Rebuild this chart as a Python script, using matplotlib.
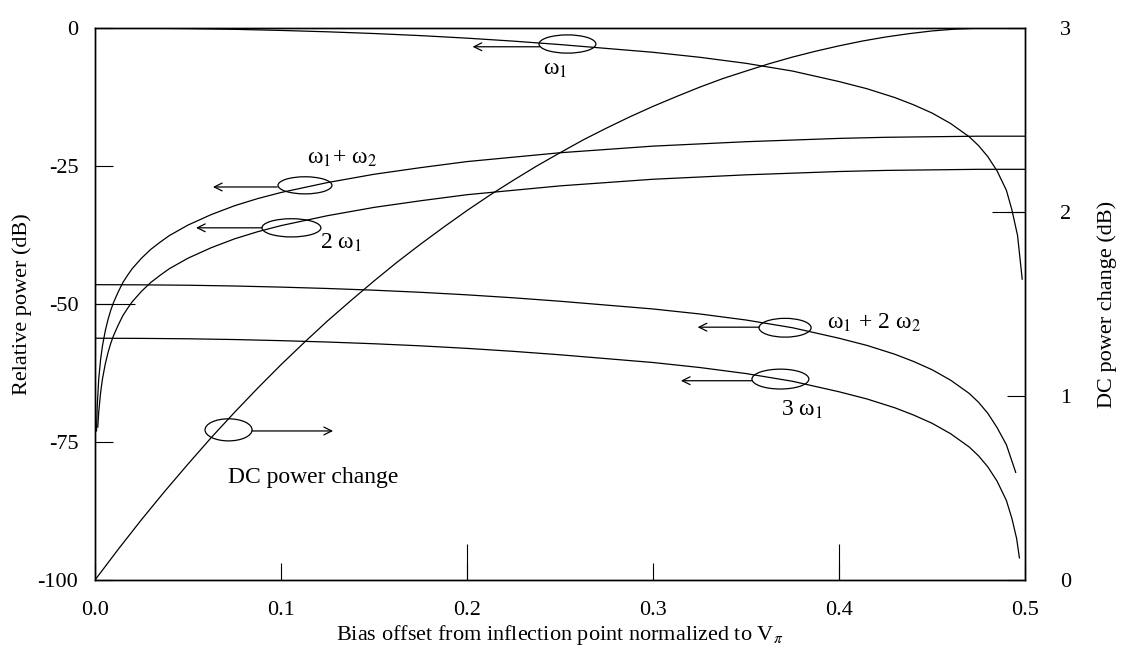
import matplotlib.pyplot as plt
from matplotlib.patches import Ellipse

plt.rcParams['font.family'] = ['Liberation Serif', 'DejaVu Serif']
plt.rcParams['mathtext.fontset'] = 'stix'
plt.rcParams['axes.unicode_minus'] = False

# Valeurs (biais normalisé à Vpi -> puissance relative en dB)
x_w1 = [0.0, 0.025, 0.05, 0.075, 0.1, 0.125, 0.15, 0.175, 0.2, 0.225, 0.25, 0.275, 0.3, 0.325,
        0.35, 0.375, 0.4, 0.415, 0.43, 0.44, 0.45, 0.46, 0.47, 0.475, 0.48, 0.485, 0.49, 0.493,
        0.496, 0.4985]
p_w1 = [0.0, -0.03, -0.11, -0.24, -0.44, -0.69, -1.0, -1.38, -1.84, -2.38, -3.0, -3.7, -4.4, -5.3,
        -6.4, -7.8, -9.7, -11.0, -12.6, -13.9, -15.4, -17.3, -19.7, -21.3, -23.3, -25.9, -29.4, -33.0,
        -37.6, -45.5]

x_w1w2 = [0.0008, 0.0012, 0.002, 0.003, 0.004, 0.0055, 0.007, 0.0085, 0.01, 0.0125, 0.015, 0.0175,
          0.02, 0.025, 0.03, 0.035, 0.04, 0.05, 0.0625, 0.075, 0.0875, 0.1, 0.125, 0.15, 0.175, 0.2,
          0.225, 0.25, 0.275, 0.3, 0.325, 0.35, 0.375, 0.4, 0.425, 0.45, 0.475, 0.5]
p_w1w2 = [-73.0, -68.5, -63.6, -60.1, -57.6, -54.9, -52.8, -51.1, -49.7, -47.8, -46.1, -44.8,
          -43.6, -41.7, -40.1, -38.8, -37.6, -35.7, -33.8, -32.2, -30.9, -29.8, -28.0, -26.5, -25.3, -24.2,
          -23.4, -22.6, -22.0, -21.4, -21.0, -20.6, -20.3, -20.0, -19.8, -19.7, -19.6, -19.6]

x_2w1 = [0.0015, 0.002, 0.003, 0.004, 0.0055, 0.007, 0.0085, 0.01, 0.0125, 0.015, 0.0175, 0.02,
         0.025, 0.03, 0.035, 0.04, 0.05, 0.0625, 0.075, 0.0875, 0.1, 0.125, 0.15, 0.175, 0.2, 0.225,
         0.25, 0.275, 0.3, 0.325, 0.35, 0.375, 0.4, 0.425, 0.45, 0.475, 0.5]
p_2w1 = [-72.3, -69.6, -66.1, -63.6, -60.9, -58.8, -57.1, -55.7, -53.8, -52.1, -50.8, -49.6,
         -47.7, -46.1, -44.8, -43.6, -41.7, -39.8, -38.2, -36.9, -35.8, -34.0, -32.5, -31.3, -30.2, -29.4,
         -28.6, -28.0, -27.4, -27.0, -26.6, -26.3, -26.0, -25.8, -25.7, -25.6, -25.6]

x_w12w2 = [0.0, 0.025, 0.05, 0.075, 0.1, 0.125, 0.15, 0.175, 0.2, 0.225, 0.25, 0.275, 0.3, 0.325,
           0.35, 0.375, 0.4, 0.415, 0.43, 0.44, 0.45, 0.46, 0.47, 0.475, 0.48, 0.485, 0.49, 0.495]
p_w12w2 = [-46.5, -46.53, -46.6, -46.74, -46.94, -47.19, -47.5, -47.88, -48.34, -48.88, -49.5, -50.2,
           -50.9, -51.8, -52.9, -54.3, -56.2, -57.5, -59.1, -60.4, -61.9, -63.8, -66.2, -67.8, -69.8,
           -72.4, -75.5, -80.5]

x_3w1 = [0.0, 0.025, 0.05, 0.075, 0.1, 0.125, 0.15, 0.175, 0.2, 0.225, 0.25, 0.275, 0.3, 0.325,
         0.35, 0.375, 0.4, 0.415, 0.43, 0.44, 0.45, 0.46, 0.47, 0.475, 0.48, 0.485, 0.49, 0.493,
         0.4955, 0.497]
p_3w1 = [-56.2, -56.23, -56.3, -56.44, -56.64, -56.89, -57.2, -57.58, -58.04, -58.58, -59.2, -59.9,
         -60.6, -61.5, -62.6, -64.0, -65.9, -67.2, -68.8, -70.1, -71.6, -73.5, -75.9, -77.5, -79.5,
         -82.1, -85.6, -88.9, -92.5, -96.0]

# variation de puissance DC (axe de droite, dB)
x_dc = [0.0, 0.0125, 0.025, 0.0375, 0.05, 0.0625, 0.075, 0.0875, 0.1, 0.1125, 0.125, 0.1375,
        0.15, 0.1625, 0.175, 0.1875, 0.2, 0.2125, 0.225, 0.2375, 0.25, 0.2625, 0.275, 0.2875,
        0.3, 0.3125, 0.325, 0.3375, 0.35, 0.3625, 0.375, 0.3875, 0.4, 0.4125, 0.425, 0.4375,
        0.45, 0.4625, 0.475, 0.4875, 0.5]
p_dc = [0.0, 0.167, 0.328, 0.482, 0.630, 0.774, 0.911, 1.043, 1.170, 1.291, 1.408, 1.518,
        1.625, 1.728, 1.825, 1.918, 2.008, 2.093, 2.173, 2.250, 2.322, 2.392, 2.456, 2.517,
        2.574, 2.627, 2.678, 2.725, 2.766, 2.806, 2.842, 2.874, 2.903, 2.929, 2.951, 2.969,
        2.984, 2.994, 2.999, 3.0, 3.0]

xticks = [0.0, 0.1, 0.2, 0.3, 0.4, 0.5]
xtick_labels = ['0.0', '0.1', '0.2', '0.3', '0.4', '0.5']
yticks_left = [0, -25, -50, -75, -100]
yticks_right = [0, 1, 2, 3]

fig = plt.figure(figsize=(11.34, 6.56), dpi=100)
ax = fig.add_axes([95 / 1134, 1 - 580 / 656, 930 / 1134, 552 / 656])
ax2 = ax.twinx()

lw = 0.9
for xs, ys in [(x_w1, p_w1), (x_w1w2, p_w1w2), (x_2w1, p_2w1), (x_w12w2, p_w12w2), (x_3w1, p_3w1)]:
    ax.plot(xs, ys, color='black', lw=lw, solid_joinstyle='round')
ax2.plot(x_dc, p_dc, color='black', lw=lw, solid_joinstyle='round')

ax.set_xlim(0, 0.5)
ax.set_ylim(-100, 0)
ax2.set_ylim(0, 3)

ax.set_xticks(xticks)
ax.set_xticklabels(xtick_labels)
ax.set_yticks(yticks_left)
ax.set_yticklabels([str(v) for v in yticks_left])
ax2.set_yticks(yticks_right)
ax2.set_yticklabels([str(v) for v in yticks_right])

# graduations longues intermédiaires
ax.xaxis.remove_overlapping_locs = False
ax.yaxis.remove_overlapping_locs = False
ax2.yaxis.remove_overlapping_locs = False
ax.set_xticks([0.2, 0.4], minor=True)
ax.set_yticks([-50], minor=True)
ax2.set_yticks([2], minor=True)

ax.tick_params(axis='x', which='major', direction='in', length=12, width=0.8, labelsize=16, pad=15)
ax.tick_params(axis='x', which='minor', direction='in', length=26, width=0.8)
ax.tick_params(axis='y', which='major', direction='in', length=13, width=0.8, labelsize=16, pad=12)
ax.tick_params(axis='y', which='minor', direction='in', length=29, width=0.8)
ax2.tick_params(axis='y', which='major', direction='in', length=13, width=0.8, labelsize=16, pad=25)
ax2.tick_params(axis='y', which='minor', direction='in', length=24, width=0.8)

for a in (ax, ax2):
    for s in a.spines.values():
        s.set_linewidth(1.0)

ax.set_xlabel('Bias offset from inflection point normalized to V$_{π}$', fontsize=16, labelpad=2)
ax.set_ylabel('Relative power (dB)', fontsize=16)
ax2.set_ylabel('DC power change (dB)', fontsize=16)
ax.yaxis.set_label_coords(-0.068, 0.5)
ax2.yaxis.set_label_coords(1.078, 0.5)

# repères : ellipse + flèche + étiquette
marks = [
    # (cx, cy, w, h, flèche de, flèche vers, texte, tx, ty)
    (0.254, -2.9, 0.0306, 3.3, (0.239, -3.4), (0.203, -3.4), 'ω$_1$', 0.241, -7.6),
    (0.1129, -28.5, 0.029, 3.1, (0.098, -28.8), (0.0634, -28.8), 'ω$_1$+ ω$_2$', 0.114, -23.6),
    (0.1056, -36.2, 0.0317, 3.3, (0.0898, -36.2), (0.0543, -36.2), '2 ω$_1$', 0.121, -39.0),
    (0.371, -54.3, 0.028, 3.4, (0.357, -54.2), (0.324, -54.2), 'ω$_1$ + 2 ω$_2$', 0.3935, -53.4),
    (0.3685, -63.6, 0.0306, 3.6, (0.353, -63.9), (0.315, -63.9), '3 ω$_1$', 0.369, -69.2),
    (0.0718, -72.8, 0.0253, 4.0, (0.0844, -73.0), (0.128, -73.0), 'DC power change', 0.0715, -81.5),
]
for cx, cy, w, h, a0, a1, txt, tx, ty in marks:
    ax.add_patch(Ellipse((cx, cy), w, h, fill=False, edgecolor='black', lw=lw))
    ax.annotate('', xy=a1, xytext=a0,
                arrowprops=dict(arrowstyle='->', color='black', lw=lw, mutation_scale=14,
                                shrinkA=0, shrinkB=0))
    ax.text(tx, ty, txt, fontsize=17, ha='left', va='center')

fig.savefig('out.png', dpi=100)
